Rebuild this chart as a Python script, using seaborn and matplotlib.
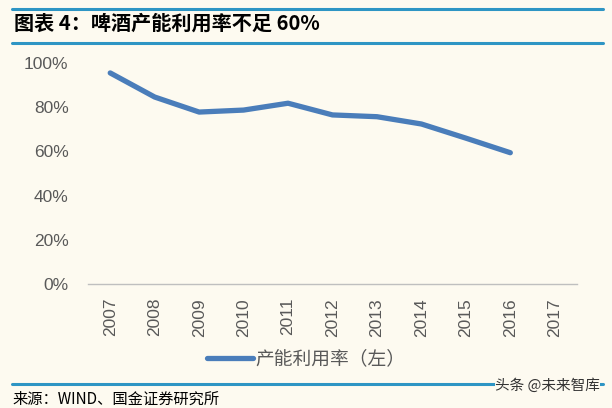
import matplotlib
matplotlib.use("Agg")
import matplotlib.pyplot as plt
import seaborn as sns
import pandas as pd
from matplotlib.ticker import PercentFormatter

# --- Data ---
years = ["2007", "2008", "2009", "2010", "2011", "2012",
         "2013", "2014", "2015", "2016", "2017"]
utilization = [0.955, 0.846, 0.778, 0.787, 0.818, 0.765,
               0.757, 0.724, 0.660, 0.594, None]
series_name = "产能利用率（左）"
title_text = "图表 4：啤酒产能利用率不足 60%"
source_text = "来源：WIND、国金证券研究所"
watermark_text = "头条 @未来智库"

BG = "#FDFAF0"
LINE_BLUE = "#4A7DBA"
RULE_BLUE = "#2E95C4"
GREY = "#595959"

sns.set_theme(style="white")
plt.rcParams["font.family"] = ["Liberation Sans", "Noto Sans CJK SC", "DejaVu Sans"]
CJK = ["Noto Sans CJK SC", "DejaVu Sans"]

df = pd.DataFrame({"year": years, "value": utilization})

fig = plt.figure(figsize=(6.12, 4.08), dpi=100, facecolor=BG)
ax = fig.add_axes([88 / 612, 1 - 284 / 408, (577 - 88) / 612, (284 - 63) / 408])
ax.set_facecolor(BG)

sns.lineplot(data=df, x="year", y="value", color=LINE_BLUE, linewidth=3.8,
             solid_capstyle="round", label=series_name, ax=ax, sort=False)

ax.set_xlim(-0.5, len(years) - 0.5)
ax.set_ylim(0, 1)
ax.set_yticks([0, 0.2, 0.4, 0.6, 0.8, 1.0])
ax.yaxis.set_major_formatter(PercentFormatter(1.0, decimals=0))
ax.set_xlabel("")
ax.set_ylabel("")
ax.tick_params(axis="both", length=0, labelsize=12.5, labelcolor=GREY)
ax.tick_params(axis="y", pad=14)
ax.tick_params(axis="x", pad=10)
for lbl in ax.get_xticklabels():
    lbl.set_rotation(90)

for side in ["top", "right", "left"]:
    ax.spines[side].set_visible(False)
ax.spines["bottom"].set_color("#BFBFBF")
ax.spines["bottom"].set_linewidth(1.0)

leg = ax.legend(loc="upper center", bbox_to_anchor=(0.446, -0.215), frameon=False,
                handlelength=2.45, handletextpad=0.1, prop={"family": CJK, "size": 13.5})
for t in leg.get_texts():
    t.set_color(GREY)

# header / footer rules and text
for y in [9, 43, 384]:
    fig.add_artist(plt.Line2D([12 / 612, 603 / 612], [1 - y / 408, 1 - y / 408],
                              color=RULE_BLUE, linewidth=2.2))

fig.text(14 / 612, 1 - 23 / 408, title_text, ha="left", va="center",
         fontsize=14.5, fontweight="bold", color="black", family=CJK)
fig.text(12 / 612, 1 - 399 / 408, source_text, ha="left", va="center",
         fontsize=11, color="black", family=CJK)
fig.text(600 / 612, 1 - 386 / 408, watermark_text, ha="right", va="center",
         fontsize=10.5, color="#333333", family=CJK,
         bbox=dict(facecolor=BG, edgecolor="none", pad=0.3))

fig.savefig("out.png", dpi=100, facecolor=BG)
